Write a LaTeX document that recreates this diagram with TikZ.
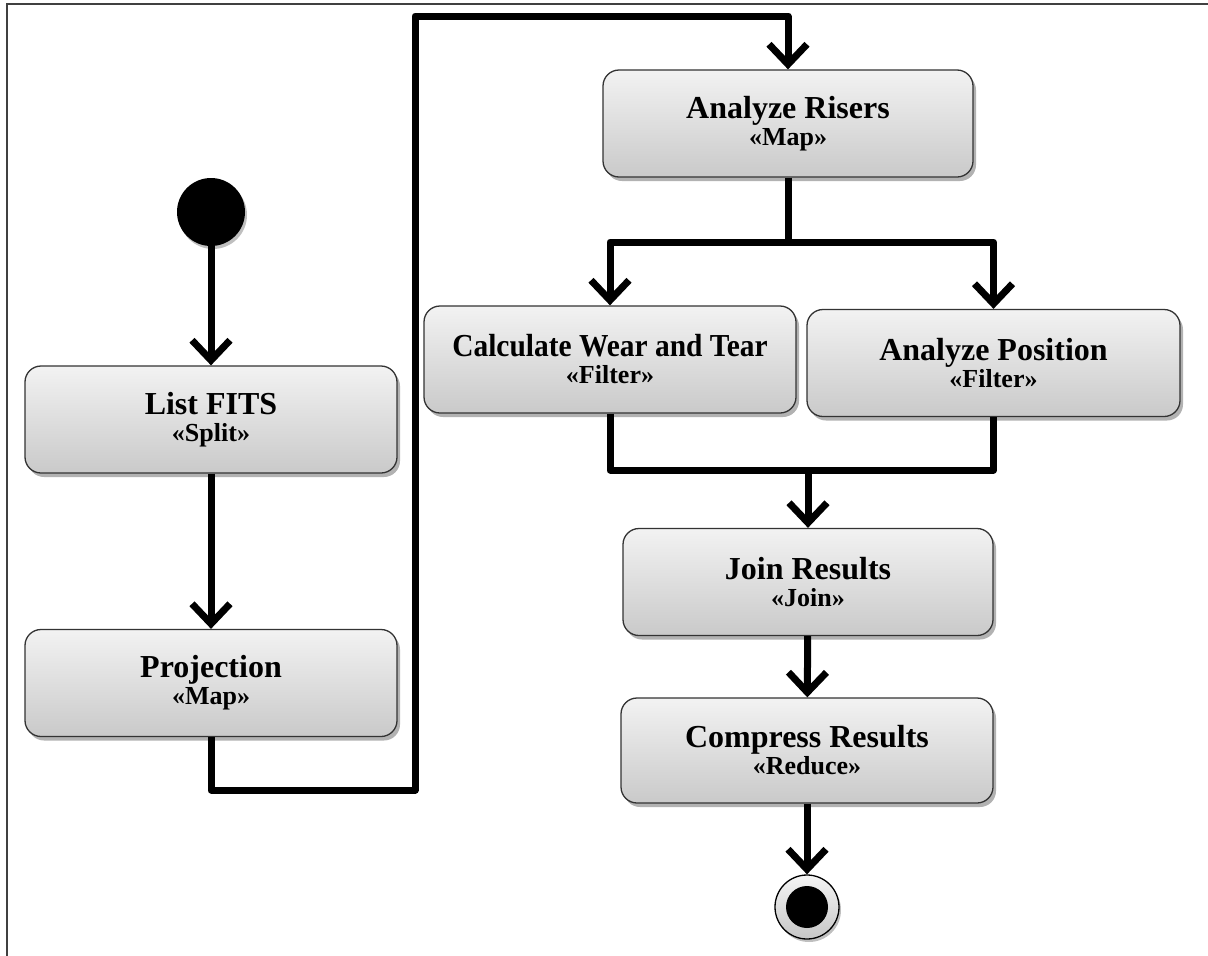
\documentclass[tikz,border=0pt]{standalone}
\usepackage{fontspec}
\setmainfont{Liberation Serif}
\usetikzlibrary{arrows.meta,shadows,calc}

\tikzset{
  act/.style={draw=black!80, line width=1.3pt, rounded corners=16pt,
    top color=gray!10, bottom color=gray!42,
    minimum width=372pt, minimum height=107pt, align=center, inner sep=0pt,
    drop shadow={shadow xshift=3pt, shadow yshift=-4pt, opacity=0.3, fill=black},
    font=\fontsize{32}{36}\selectfont\bfseries},
  wire/.style={line width=7pt, line join=round},
  flow/.style={wire, -{Straight Barb[length=20pt,width=38pt]}},
  initial/.style={circle, fill=black, minimum size=68pt, inner sep=0pt,
    drop shadow={shadow xshift=2pt, shadow yshift=-3pt, opacity=0.25, fill=black}},
  final/.style={circle, draw=black, line width=1.3pt, top color=gray!8, bottom color=gray!45,
    minimum size=64pt, inner sep=0pt,
    drop shadow={shadow xshift=2pt, shadow yshift=-3pt, opacity=0.25, fill=black}}
}

% activity label: title line over a stereotype line
\newcommand{\actlabel}[2]{#1\\[-9pt]{\fontsize{26}{30}\selectfont\bfseries «#2»}}

\begin{document}
\begin{tikzpicture}[x=1pt,y=-1pt]
\useasboundingbox (0,0) rectangle (1208,956);

% page frame (top and left edges)
\draw[line width=1.5pt, black!75] (7,956) -- (7,4) -- (1208,4);

% activity nodes
\node[initial] (start) at (211,212) {};
\node[act] (list) at (211,419.5) {\actlabel{List FITS}{Split}};
\node[act] (proj) at (211,683) {\actlabel{Projection}{Map}};
\node[act, minimum width=370pt] (risers) at (788,123.5) {\actlabel{Analyze Risers}{Map}};
\node[act] (calc) at (610,359.5) {\actlabel{\scalebox{0.92}[1]{Calculate Wear and Tear}}{Filter}};
\node[act, minimum width=373pt] (pos) at (993.5,363) {\actlabel{Analyze Position}{Filter}};
\node[act, minimum width=370pt] (join) at (808,582) {\actlabel{Join Results}{Join}};
\node[act, minimum height=105pt] (comp) at (807,750.5) {\actlabel{Compress Results}{Reduce}};
\node[final] (end) at (807,907) {};
\fill[black] (end.center) circle (21pt);

% routing points
\coordinate (loopA) at (415,790);
\coordinate (loopB) at (415,16);
\coordinate (fork) at (788,242);
\coordinate (merge) at (808,470);

% connectors
\draw[flow] (start) -- (list);
\draw[flow] (list) -- (proj);
\draw[flow] (proj.south) |- (loopA) -- (loopB) -| (risers.north);
\draw[wire] (risers.south) -- (fork);
\draw[flow] (fork) -| (calc.north);
\draw[flow] (fork) -| (pos.north);
\draw[wire] (calc.south) |- (merge) -| (pos.south);
\draw[flow] (merge) -- (join);
\draw[flow] (join) -- (comp);
\draw[flow] (comp) -- (end);
\end{tikzpicture}
\end{document}
